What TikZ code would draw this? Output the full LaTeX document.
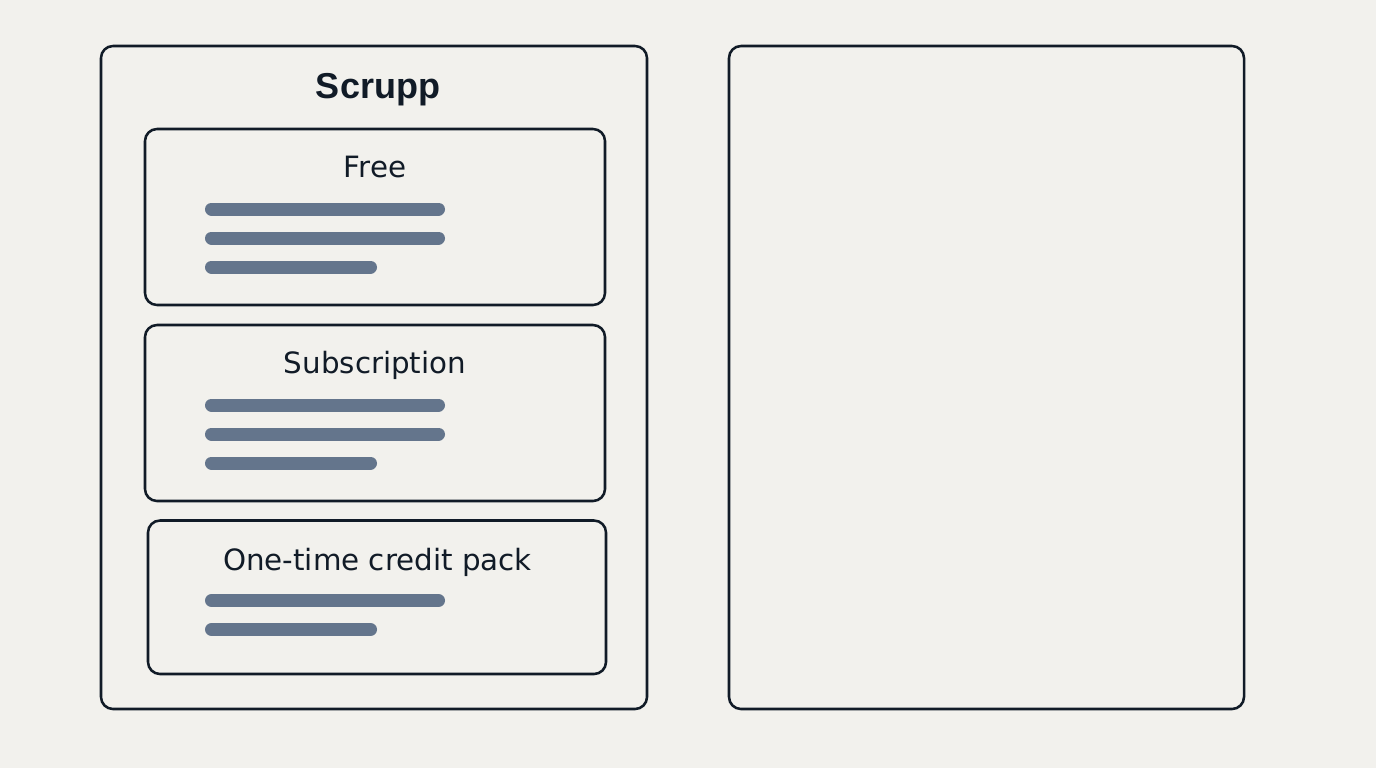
\documentclass[tikz,border=0pt]{standalone}
\usepackage{fontspec}
\setmainfont{Liberation Sans}
\newfontfamily\cardfont{DejaVu Sans}
\definecolor{bg}{HTML}{F2F1ED}
\definecolor{ink}{HTML}{111B27}
\definecolor{bar}{HTML}{64758C}
\begin{document}
\begin{tikzpicture}[x=0.75pt,y=-0.75pt,
  panel/.style={draw=ink,line width=1.9pt,rounded corners=9pt},
  cardbox/.style={draw=ink,line width=1.9pt,rounded corners=9pt},
  textbar/.style={draw=bar,line width=9.75pt,line cap=round},
  cardtitle/.style={font=\cardfont\fontsize{22}{26}\selectfont,text=ink,anchor=base,inner sep=0pt},
  maintitle/.style={font=\fontsize{27}{32}\selectfont\bfseries,text=ink,anchor=base,inner sep=0pt}]
\fill[bg] (0,0) rectangle (1376,768);
\useasboundingbox (0,0) rectangle (1376,768);
% panels
\draw[panel] (101,46) rectangle (647,709);
\draw[panel] (729,46) rectangle (1244,709);
\node[maintitle] (title) at (378,98) {Scrupp};
% card 1
\draw[cardbox] (145,129) rectangle (605,305);
\node[cardtitle] (free) at (375,177) {Free};
\draw[textbar] (211.5,209) -- (438.5,209);
\draw[textbar] (211.5,238) -- (438.5,238);
\draw[textbar] (211.5,267) -- (370.5,267);
% card 2
\draw[cardbox] (145,325) rectangle (605,501);
\node[cardtitle] (sub) at (375,373) {Subscription};
\draw[textbar] (211.5,405) -- (438.5,405);
\draw[textbar] (211.5,434) -- (438.5,434);
\draw[textbar] (211.5,463) -- (370.5,463);
% card 3
\draw[cardbox] (148,520.5) rectangle (606,674);
\node[cardtitle] (pack) at (377.5,570) {One-time credit pack};
\draw[textbar] (211.5,600.5) -- (438.5,600.5);
\draw[textbar] (211.5,629.5) -- (370.5,629.5);
\end{tikzpicture}
\end{document}
